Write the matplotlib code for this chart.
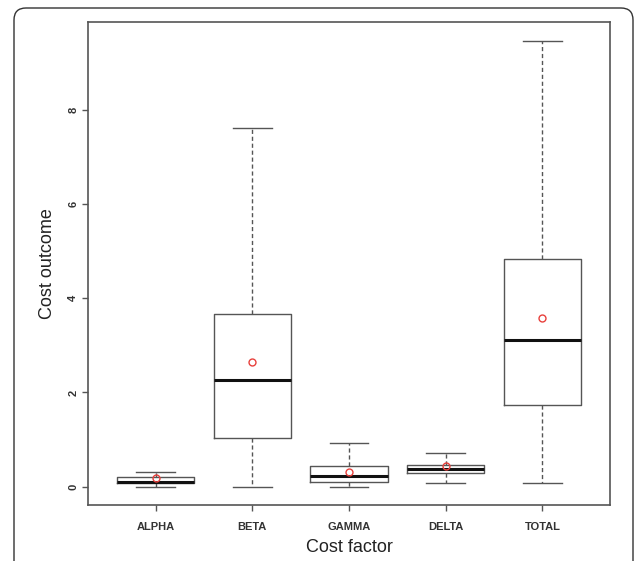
import matplotlib
matplotlib.use("Agg")
import matplotlib.pyplot as plt
from matplotlib.patches import FancyBboxPatch

plt.rcParams["font.family"] = ["Liberation Sans", "DejaVu Sans"]

# values
factors = ["ALPHA", "BETA", "GAMMA", "DELTA", "TOTAL"]
whisker_lo = [0.00, 0.00, 0.00, 0.08, 0.07]
q1 = [0.07, 1.04, 0.10, 0.28, 1.73]
medians = [0.10, 2.26, 0.23, 0.37, 3.12]
q3 = [0.21, 3.66, 0.43, 0.46, 4.82]
whisker_hi = [0.30, 7.62, 0.93, 0.71, 9.45]
means = [0.18, 2.64, 0.30, 0.43, 3.58]

fig = plt.figure(figsize=(6.37, 5.61), dpi=100)

# rounded outer frame (bottom runs off the picture)
frame = FancyBboxPatch((0.14, -0.3), 6.19, 5.83,
                       boxstyle="round,pad=0,rounding_size=0.12",
                       transform=fig.dpi_scale_trans, fill=False,
                       edgecolor="#333333", linewidth=1.0)
fig.patches.append(frame)

ax = fig.add_axes([88 / 637, 56 / 561, 522 / 637, 483 / 561])

stats = []
for i, name in enumerate(factors):
    stats.append({"label": name, "whislo": whisker_lo[i], "q1": q1[i],
                  "med": medians[i], "q3": q3[i], "whishi": whisker_hi[i],
                  "mean": means[i]})

line_col = "#555555"
ax.bxp(stats, positions=range(1, len(factors) + 1), widths=0.8,
       showmeans=True, showfliers=False,
       boxprops=dict(color=line_col, linewidth=1.0),
       whiskerprops=dict(color=line_col, linewidth=1.0, linestyle=(0, (3, 2))),
       capprops=dict(color=line_col, linewidth=1.0),
       capwidths=0.4,
       medianprops=dict(color="#111111", linewidth=2.2),
       meanprops=dict(marker="o", markerfacecolor="none",
                      markeredgecolor="#e8403c", markersize=5,
                      markeredgewidth=1.0))

ax.set_xlim(0.3, 5.7)
ax.set_ylim(-0.39, 9.86)
ax.set_yticks([0, 2, 4, 6, 8])
ax.set_yticklabels(["0", "2", "4", "6", "8"], rotation=90, va="center",
                   fontweight="bold")
ax.set_xticks(range(1, len(factors) + 1))
ax.set_xticklabels(factors, fontweight="bold")

for s in ax.spines.values():
    s.set_color("#555555")
    s.set_linewidth(1.2)

ax.tick_params(axis="both", direction="out", length=4.5, width=1.0,
               color="#555555", labelsize=8, labelcolor="#333333")
ax.tick_params(axis="x", pad=7.5)
ax.tick_params(axis="y", pad=2.5)

ax.set_xlabel("Cost factor", fontsize=13, color="#222222")
ax.set_ylabel("Cost outcome", fontsize=13, color="#222222")
ax.xaxis.set_label_coords(0.5, -0.071)
ax.yaxis.set_label_coords(-0.061, 0.5)

fig.savefig("out.png", dpi=100)
